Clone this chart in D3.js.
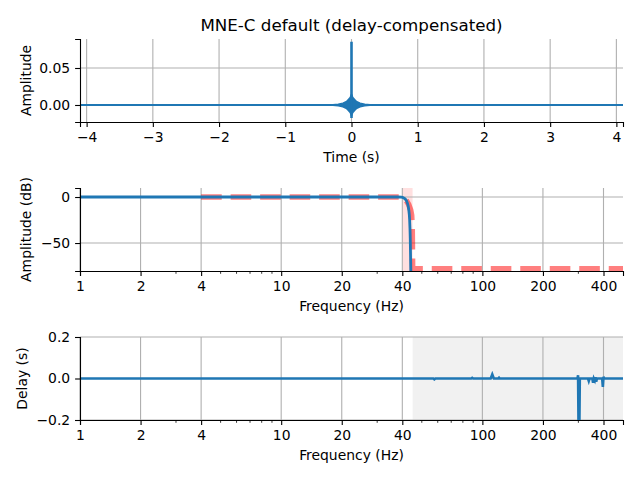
<!DOCTYPE html>
<html><head><meta charset="utf-8">
<script src="https://cdn.jsdelivr.net/npm/d3@7"></script>
<style>
body{margin:0;background:#fff}
text{font-family:"DejaVu Sans",sans-serif}
</style></head>
<body><svg id="c" width="640" height="480"></svg>
<script>
// ---------- data ----------
const titleText = "MNE-C default (delay-compensated)";
// impulse response: baseline span, envelope of oscillation, central spike
const impDomain = [-4.1, 4.1];
const impTicks = [-4, -3, -2, -1, 0, 1, 2, 3, 4];
const impYTicks = [0.00, 0.05];
const impEnvT  = [-0.32, -0.2, -0.13, -0.09, -0.06, -0.04, -0.02, -0.01, -0.004, 0, 0.004, 0.01, 0.02, 0.04, 0.06, 0.09, 0.13, 0.2, 0.32];
const impEnvHi = [0, 0.001, 0.0025, 0.004, 0.006, 0.008, 0.010, 0.012, 0.014, 0.014, 0.014, 0.012, 0.010, 0.008, 0.006, 0.004, 0.0025, 0.001, 0];
const impEnvLo = [0, -0.001, -0.0025, -0.004, -0.006, -0.008, -0.010, -0.012, -0.014, -0.014, -0.014, -0.012, -0.010, -0.008, -0.006, -0.004, -0.0025, -0.001, 0];
const impSpike = [-0.0176, 0.0855];

// magnitude response
const freqDomain = [1, 500];
const freqTicks = [1, 2, 4, 10, 20, 40, 100, 200, 400];
const magYTicks = [-50, 0];
const magFreq = [1, 38, 39.5, 40.5, 41.5, 42.3, 43, 43.5, 43.8, 44.0, 44.2];
const magDb   = [0, 0, -0.2, -0.8, -2.5, -6, -13, -25, -45, -70, -95];
const idealFreq = [4, 40, 41, 42, 43, 44, 44.5, 44.8, 45, 500];
const idealDb   = [0, 0, -1.9, -4.4, -8, -14, -20, -34, -78, -78];
const transBand = [40, 45];

// group delay
const delayYTicks = [-0.2, 0.0, 0.2];
const delayFreq = [1, 57, 57.7, 58.4, 88, 89, 90, 110, 112, 114, 120, 121, 122, 297, 299, 301, 303, 305, 335, 338, 341, 352, 355, 358, 362, 365, 368, 371, 394, 397, 400, 403, 500];
const delayVal  = [0, 0, -0.004, 0, 0, 0.003, 0, 0, 0.02, 0, 0, 0.004, 0, 0, 0.016, -0.3, -0.3, 0, 0, -0.012, 0, 0, -0.02, 0, -0.01, 0.006, -0.015, 0, 0, -0.04, 0.008, 0, 0];
const stopBand = [45, 500];

// ---------- layout ----------
const svg = d3.select("#c");
const L = 80, R = 623;
const panels = [{t: 39, b: 122}, {t: 188, b: 271}, {t: 337, b: 420}];
const blue = "#1f77b4";
const fs = 13.9;
const tickLen = 4.9, tickPad = 4.9;
const gridColor = "#b0b0b0";
const fmtMinus = s => s.replace("-", "\u2212");

svg.append("text").attr("x", 351.5).attr("y", 31).attr("text-anchor", "middle")
  .attr("font-size", 16.7).text(titleText);

function clip(id, p) {
  svg.append("clipPath").attr("id", id).append("rect")
    .attr("x", L).attr("y", p.t).attr("width", R - L).attr("height", p.b - p.t);
}

function styleAxis(g) {
  g.selectAll("path.domain").attr("stroke", "#000").attr("stroke-width", 1.1);
  g.selectAll(".tick line").attr("stroke", "#000").attr("stroke-width", 1.1);
  g.selectAll("text").attr("font-size", fs).attr("fill", "#000")
    .attr("font-family", "DejaVu Sans, sans-serif");
}

function drawAxes(p, x, y, xTicks, yTicks, xFmt, yFmt, xLabel, yLabel, yLabelX, logMinor) {
  // grid
  const g = svg.append("g");
  g.selectAll("line.gx").data(xTicks).join("line")
    .attr("x1", d => x(d)).attr("x2", d => x(d)).attr("y1", p.t).attr("y2", p.b)
    .attr("stroke", gridColor).attr("stroke-width", 1.1);
  g.selectAll("line.gy").data(yTicks).join("line")
    .attr("x1", L).attr("x2", R).attr("y1", d => y(d)).attr("y2", d => y(d))
    .attr("stroke", gridColor).attr("stroke-width", 1.1);
  return function finish() {
    const gx = svg.append("g").attr("transform", `translate(0,${p.b})`)
      .call(d3.axisBottom(x).tickValues(xTicks).tickFormat(xFmt).tickSizeOuter(0)
        .tickSize(tickLen).tickPadding(tickPad));
    styleAxis(gx);
    if (logMinor) {
      const minor = x.ticks().filter(v => !xTicks.includes(v) && v > x.domain()[0] && v < x.domain()[1]);
      gx.selectAll("line.minor").data(minor).join("line")
        .attr("x1", d => x(d)).attr("x2", d => x(d)).attr("y1", 0).attr("y2", 2.8)
        .attr("stroke", "#000").attr("stroke-width", 0.8);
    }
    const gy = svg.append("g").attr("transform", `translate(${L},0)`)
      .call(d3.axisLeft(y).tickValues(yTicks).tickFormat(yFmt).tickSizeOuter(0)
        .tickSize(tickLen).tickPadding(tickPad));
    styleAxis(gy);
    svg.append("text").attr("x", (L + R) / 2).attr("y", p.b + 40).attr("text-anchor", "middle")
      .attr("font-size", fs).text(xLabel);
    svg.append("text").attr("transform", `translate(${yLabelX},${(p.t + p.b) / 2}) rotate(-90)`)
      .attr("text-anchor", "middle").attr("font-size", fs).text(yLabel);
  };
}

// ---------- panel 1: impulse ----------
{
  const p = panels[0];
  const x = d3.scaleLinear().domain(impDomain).range([L, R]);
  const y = d3.scaleLinear().domain([-0.023, 0.0892]).range([p.b, p.t]);
  clip("c1", p);
  const fin = drawAxes(p, x, y, impTicks, impYTicks, d => fmtMinus(d3.format("d")(d)), d3.format(".2f"),
    "Time (s)", "Amplitude", 31, false);
  const g = svg.append("g").attr("clip-path", "url(#c1)");
  g.append("path").datum(impDomain)
    .attr("d", d3.line().x(d => x(d)).y(() => y(0)))
    .attr("stroke", blue).attr("stroke-width", 2.1).attr("fill", "none");
  const env = impEnvT.map((t, i) => ({t, hi: impEnvHi[i], lo: impEnvLo[i]}));
  g.append("path").datum(env)
    .attr("d", d3.area().x(d => x(d.t)).y0(d => y(d.lo)).y1(d => y(d.hi)))
    .attr("fill", blue).attr("stroke", blue).attr("stroke-width", 1.5);
  g.append("path").datum(impSpike)
    .attr("d", d3.line().x(() => x(0)).y(d => y(d)))
    .attr("stroke", blue).attr("stroke-width", 2.6).attr("fill", "none");
  fin();
}

// ---------- panel 2: magnitude ----------
{
  const p = panels[1];
  const x = d3.scaleLog().domain(freqDomain).range([L, R]);
  const y = d3.scaleLinear().domain([-80.4, 9.8]).range([p.b, p.t]);
  clip("c2", p);
  svg.append("rect").attr("x", x(transBand[0])).attr("y", p.t)
    .attr("width", x(transBand[1]) - x(transBand[0])).attr("height", p.b - p.t)
    .attr("fill", "#ff0000").attr("fill-opacity", 0.12);
  const fin = drawAxes(p, x, y, freqTicks, magYTicks, d3.format("d"), d => fmtMinus(String(d)),
    "Frequency (Hz)", "Amplitude (dB)", 31, true);
  const g = svg.append("g").attr("clip-path", "url(#c2)");
  const ideal = idealFreq.map((f, i) => [f, idealDb[i]]);
  g.append("path").datum(ideal)
    .attr("d", d3.line().x(d => x(d[0])).y(d => y(d[1])))
    .attr("stroke", "#ff0000").attr("stroke-opacity", 0.5).attr("stroke-width", 5.6)
    .attr("stroke-dasharray", "20.6,8.9").attr("fill", "none");
  const mag = magFreq.map((f, i) => [f, magDb[i]]);
  g.append("path").datum(mag)
    .attr("d", d3.line().curve(d3.curveMonotoneX).x(d => x(d[0])).y(d => y(d[1])))
    .attr("stroke", blue).attr("stroke-width", 2.8).attr("fill", "none");
  fin();
}

// ---------- panel 3: delay ----------
{
  const p = panels[2];
  const x = d3.scaleLog().domain(freqDomain).range([L, R]);
  const y = d3.scaleLinear().domain([-0.2, 0.2]).range([p.b, p.t]);
  clip("c3", p);
  svg.append("rect").attr("x", x(stopBand[0])).attr("y", p.t)
    .attr("width", x(stopBand[1]) - x(stopBand[0])).attr("height", p.b - p.t)
    .attr("fill", "#000").attr("fill-opacity", 0.055);
  const fin = drawAxes(p, x, y, freqTicks, delayYTicks, d3.format("d"), d => fmtMinus(d3.format(".1f")(d)),
    "Frequency (Hz)", "Delay (s)", 27, true);
  const g = svg.append("g").attr("clip-path", "url(#c3)");
  const del = delayFreq.map((f, i) => [f, delayVal[i]]);
  g.append("path").datum(del)
    .attr("d", d3.line().x(d => x(d[0])).y(d => y(d[1])))
    .attr("stroke", blue).attr("stroke-width", 2.6).attr("fill", "none");
  fin();
}
</script></body></html>
